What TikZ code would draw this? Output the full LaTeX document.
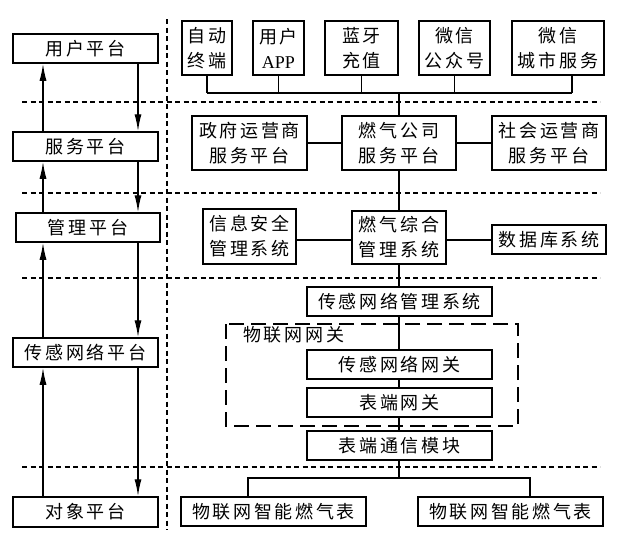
\documentclass[tikz,border=0pt]{standalone}
\usepackage{fontspec}
\newfontfamily\cjk[LetterSpace=15]{Noto Sans CJK SC}
\newfontfamily\latinfont{Liberation Serif}
\usetikzlibrary{arrows.meta}
\begin{document}
\begin{tikzpicture}[x=1pt,y=-1pt,
  box/.style={draw, line width=1.5pt, inner sep=0pt, align=center,
    font=\cjk\fontsize{18}{25}\selectfont},
  link/.style={line width=1.4pt},
  arr/.style={line width=1.4pt, -{Latex[length=17pt,width=7pt]}},
  sep/.style={line width=1.6pt, dash pattern=on 5pt off 3.5pt},
  gatebox/.style={line width=1.5pt, dash pattern=on 15pt off 7pt}]
\useasboundingbox (0,0) rectangle (619,542);
% separators
\draw[sep] (22,102) -- (600,102);
\draw[sep] (22,193) -- (600,193);
\draw[sep] (22,278) -- (600,278);
\draw[sep] (22,467) -- (600,467);
\draw[sep] (167,19) -- (167,530);
% left column
\node[box, minimum width=145pt, minimum height=29pt] (uP) at (85.5,48.5) {用户平台};
\node[box, minimum width=145pt, minimum height=29pt] (sP) at (85.5,146.5) {服务平台};
\node[box, minimum width=144pt, minimum height=29pt] (mP) at (88,227.5) {管理平台};
\node[box, minimum width=145pt, minimum height=29pt] (cP) at (85.5,352.5) {传感网络平台};
\node[box, minimum width=145pt, minimum height=30pt] (dP) at (85.5,512) {对象平台};
\coordinate (upx) at (43,0);
\coordinate (dnx) at (138,0);
\draw[arr] (sP.north -| upx) -- (uP.south -| upx);
\draw[arr] (mP.north -| upx) -- (sP.south -| upx);
\draw[arr] (cP.north -| upx) -- (mP.south -| upx);
\draw[arr] (dP.north -| upx) -- (cP.south -| upx);
\draw[arr] (uP.south -| dnx) -- (sP.north -| dnx);
\draw[arr] (sP.south -| dnx) -- (mP.north -| dnx);
\draw[arr] (mP.south -| dnx) -- (cP.north -| dnx);
\draw[arr] (cP.south -| dnx) -- (dP.north -| dnx);
% user layer
\node[box, minimum width=50pt, minimum height=54pt] (a1) at (207,48) {自动\\终端};
\node[box, minimum width=51pt, minimum height=54pt] (a2) at (278.5,48) {用户\\{\latinfont APP}};
\node[box, minimum width=73pt, minimum height=54pt] (a3) at (361.5,48) {蓝牙\\充值};
\node[box, minimum width=71pt, minimum height=54pt] (a4) at (454.5,48) {微信\\公众号};
\node[box, minimum width=92pt, minimum height=54pt] (a5) at (558,48) {微信\\城市服务};
\coordinate (bus) at (399,93);
\coordinate (a5s) at (572,75);
\draw[link] (a1.south) -- (a1.south |- bus);
\draw[link] (a2.south) -- (a2.south |- bus);
\draw[link] (a3.south) -- (a3.south |- bus);
\draw[link] (a4.south) -- (a4.south |- bus);
\draw[link] (a5s) -- (a5s |- bus);
\draw[link] (a1.south |- bus) -- (a5s |- bus);
% service layer
\node[box, minimum width=115pt, minimum height=54pt] (g1) at (249.5,143) {政府运营商\\服务平台};
\node[box, minimum width=114pt, minimum height=54pt] (g2) at (399,143) {燃气公司\\服务平台};
\node[box, minimum width=114pt, minimum height=54pt] (g3) at (549,143) {社会运营商\\服务平台};
\draw[link] (bus) -- (g2.north);
\draw[link] (g1.east) -- (g2.west);
\draw[link] (g2.east) -- (g3.west);
% management layer
\node[box, minimum width=93pt, minimum height=55pt] (m1) at (249.5,236.5) {信息安全\\管理系统};
\node[box, minimum width=94pt, minimum height=53pt] (m2) at (399,237.5) {燃气综合\\管理系统};
\node[box, minimum width=114pt, minimum height=29pt] (m3) at (549,239.5) {数据库系统};
\coordinate (r3) at (0,240);
\draw[link] (g2.south) -- (m2.north);
\draw[link] (m1.east |- r3) -- (m2.west |- r3);
\draw[link] (m2.east |- r3) -- (m3.west |- r3);
% sensing network layer
\node[box, minimum width=185pt, minimum height=29pt] (s1) at (399.5,301.5) {传感网络管理系统};
\draw[gatebox] (226,324) rectangle (518,426);
\node[anchor=west, inner sep=0pt, font=\cjk\fontsize{18}{25}\selectfont] (gwl) at (243,335) {物联网网关};
\node[box, minimum width=185pt, minimum height=29pt] (s2) at (399.5,364.5) {传感网络网关};
\node[box, minimum width=185pt, minimum height=29pt] (s3) at (399.5,402.5) {表端网关};
\node[box, minimum width=185pt, minimum height=29pt] (s4) at (399.5,445.5) {表端通信模块};
\coordinate (cx) at (399,0);
\draw[link] (m2.south -| cx) -- (s1.north -| cx);
\draw[link] (s1.south -| cx) -- (s2.north -| cx);
\draw[link] (s2.south -| cx) -- (s3.north -| cx);
\draw[link] (s3.south -| cx) -- (s4.north -| cx);
% object layer
\node[box, minimum width=185pt, minimum height=29pt] (b1) at (273.5,511.5) {物联网智能燃气表};
\node[box, minimum width=185pt, minimum height=29pt] (b2) at (510.5,511.5) {物联网智能燃气表};
\coordinate (bbus) at (399,478);
\coordinate (b1n) at (248,497);
\coordinate (b2n) at (530,497);
\draw[link] (s4.south -| cx) -- (bbus);
\draw[link] (b1n) -- (b1n |- bbus) -- (b2n |- bbus) -- (b2n);
\end{tikzpicture}
\end{document}
